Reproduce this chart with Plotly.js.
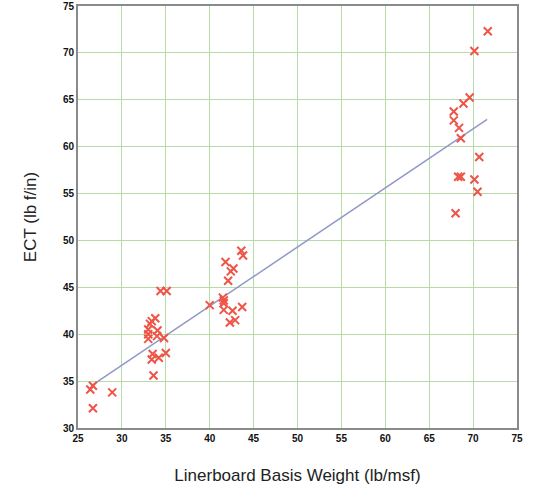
<!DOCTYPE html>
<html>
<head>
<meta charset="utf-8">
<script src="https://cdn.plot.ly/plotly-3.0.1.min.js"></script>
<style>html,body{margin:0;padding:0;background:#fff;}#chart{width:540px;height:498px;}</style>
</head>
<body>
<div id="chart"></div>
<script>
var basisWeight = [
  26.4, 26.7, 28.9, 26.7,
  33.0, 33.0, 33.0, 33.2, 33.4, 33.8, 34.0, 34.05, 34.8,
  33.5, 33.4, 34.2, 35.0, 33.6, 34.4, 35.1,
  40.0, 41.5, 41.6, 41.6, 41.6, 42.6, 43.7, 42.3, 42.9,
  42.1, 42.4, 42.7, 41.8, 43.6, 43.8,
  67.8, 67.8, 68.4, 68.6, 68.9, 69.6, 70.15, 71.67,
  70.7, 68.3, 68.6, 70.15, 70.5, 68.0
];
var ect = [
  34.1, 34.5, 33.8, 32.1,
  39.5, 40.0, 40.5, 41.1, 41.4, 41.7, 39.8, 40.4, 39.6,
  37.9, 37.3, 37.5, 38.0, 35.6, 44.6, 44.6,
  43.1, 43.9, 43.6, 43.3, 42.6, 42.5, 42.9, 41.25, 41.5,
  45.7, 46.7, 47.0, 47.7, 48.9, 48.4,
  63.75, 62.8, 62.0, 60.9, 64.6, 65.25, 70.2, 72.3,
  58.9, 56.8, 56.8, 56.5, 55.2, 52.9
];
var fitX = [26.5, 71.6];
var fitY = [34.5, 62.9];
var xTickVals = [25, 30, 35, 40, 45, 50, 55, 60, 65, 70, 75];
var xTickLabels = ['25', '30', '35', '40', '45', '50', '55', '60', '65', '70', '75'];
var yTickVals = [30, 35, 40, 45, 50, 55, 60, 65, 70, 75];
var yTickLabels = ['30', '35', '40', '45', '50', '55', '60', '65', '70', '75'];

function bold(arr) { return arr.map(function (t) { return '<b>' + t + '</b>'; }); }

var traces = [
  {
    x: fitX, y: fitY, type: 'scatter', mode: 'lines',
    line: {color: '#8f98c6', width: 1.5}, hoverinfo: 'skip', showlegend: false
  },
  {
    x: basisWeight, y: ect, type: 'scatter', mode: 'markers',
    marker: {symbol: 'x-thin', size: 8, line: {color: '#ef5448', width: 2}, color: '#ef5448'},
    showlegend: false
  }
];

var tickfont = {family: 'Liberation Sans, Arial, sans-serif', size: 10, color: '#111'};
var layout = {
  width: 540, height: 498,
  margin: {l: 78, r: 23, t: 6, b: 70},
  paper_bgcolor: '#fff', plot_bgcolor: '#fff',
  showlegend: false,
  xaxis: {
    range: [25, 75], tickvals: xTickVals, ticktext: bold(xTickLabels), ticks: '',
    showgrid: true, gridcolor: '#b8d9a8', gridwidth: 1, zeroline: false,
    showline: true, mirror: true, linecolor: '#8a8a8a', linewidth: 2,
    tickfont: tickfont,
    title: {text: 'Linerboard Basis Weight (lb/msf)', font: {family: 'Liberation Sans, Arial, sans-serif', size: 17, color: '#222'}, standoff: 26},
    automargin: false
  },
  yaxis: {
    range: [30, 75], tickvals: yTickVals, ticktext: bold(yTickLabels), ticks: '',
    showgrid: true, gridcolor: '#b8d9a8', gridwidth: 1, zeroline: false,
    showline: true, mirror: true, linecolor: '#8a8a8a', linewidth: 2,
    tickfont: tickfont,
    title: {text: 'ECT (lb f/in)', font: {family: 'Liberation Sans, Arial, sans-serif', size: 17, color: '#222'}, standoff: 22},
    automargin: false
  }
};
Plotly.newPlot('chart', traces, layout, {displayModeBar: false, staticPlot: true});
</script>
</body>
</html>
